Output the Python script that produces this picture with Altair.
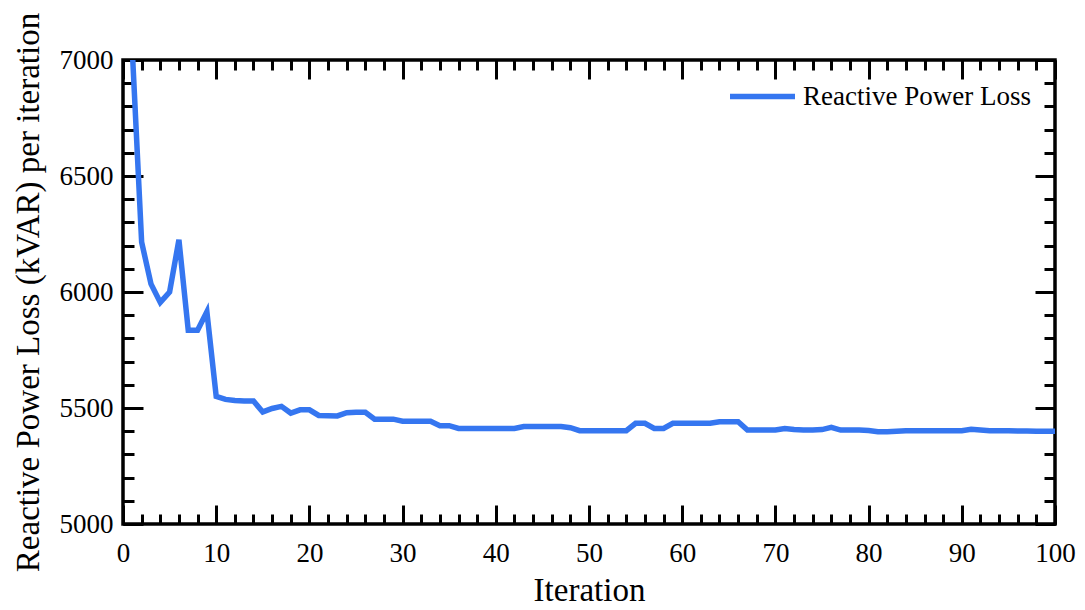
import altair as alt
import pandas as pd

iterations = list(range(1, 101))
loss = [
    7040, 6215, 6035, 5955, 6000, 6225, 5835, 5835, 5915, 5550,
    5537, 5532, 5530, 5530, 5483, 5498, 5507, 5478, 5492, 5492,
    5468, 5467, 5466, 5480, 5482, 5482, 5452, 5452, 5452, 5443,
    5443, 5443, 5443, 5424, 5424, 5412, 5412, 5412, 5412, 5412,
    5412, 5412, 5420, 5420, 5420, 5420, 5420, 5415, 5402, 5402,
    5402, 5402, 5402, 5402, 5434, 5434, 5412, 5412, 5434, 5434,
    5434, 5434, 5434, 5441, 5441, 5441, 5405, 5405, 5405, 5405,
    5412, 5407, 5405, 5405, 5407, 5417, 5405, 5405, 5405, 5403,
    5398, 5398, 5400, 5402, 5402, 5402, 5402, 5402, 5402, 5402,
    5408, 5405, 5402, 5402, 5402, 5401, 5401, 5400, 5400, 5400,
]
series_name = "Reactive Power Loss"

x_major = [0, 10, 20, 30, 40, 50, 60, 70, 80, 90, 100]
x_minor = list(range(0, 101, 2))
y_major = [5000, 5500, 6000, 6500, 7000]
y_minor = list(range(5000, 7001, 100))

W, H = 932, 464
FONT = "Liberation Serif"
BLUE = "#3576f0"

df = pd.DataFrame({"Iteration": iterations, "Loss": loss, "Series": [series_name] * len(iterations)})

xs = alt.Scale(domain=[0, 100], nice=False, zero=False)
ys = alt.Scale(domain=[5000, 7000], nice=False, zero=False)


def tick_axis(orient, offset, values, size):
    return alt.Axis(orient=orient, offset=offset, values=values, tickSize=size,
                    tickWidth=3, tickColor="black", labels=False, domain=False,
                    grid=False, title=None)


base = alt.Chart(df)

main = base.mark_line(strokeWidth=5.5, clip=True).encode(
    x=alt.X("Iteration:Q", scale=xs,
            axis=alt.Axis(orient="bottom", values=x_major, ticks=False, domain=False, grid=False,
                          title="Iteration", labelFontSize=27, titleFontSize=33,
                          labelFont=FONT, titleFont=FONT, labelColor="black", titleColor="black",
                          titleFontWeight="normal", labelPadding=16, titlePadding=8,
                          labelFlush=False, format="d")),
    y=alt.Y("Loss:Q", scale=ys,
            axis=alt.Axis(orient="left", values=y_major, ticks=False, domain=False, grid=False,
                          title="Reactive Power Loss (kVAR) per iteration",
                          labelFontSize=27, titleFontSize=33, labelFont=FONT, titleFont=FONT,
                          labelColor="black", titleColor="black", titleFontWeight="normal",
                          labelPadding=10, titlePadding=14, labelFlush=False, format="d")),
    color=alt.Color("Series:N", scale=alt.Scale(range=[BLUE]),
                    legend=alt.Legend(title=None, orient="none", legendX=604, legendY=1, padding=0,
                                      labelFont=FONT, labelFontSize=27, labelColor="black",
                                      labelLimit=500,
                                      symbolType="stroke", symbolSize=4225, symbolStrokeWidth=5.5,
                                      labelOffset=5)),
)


def ghost(xo, xoff, xv, xsz, yo, yoff, yv, ysz):
    return base.mark_line(opacity=0).encode(
        x=alt.X("Iteration:Q", scale=xs, axis=tick_axis(xo, xoff, xv, xsz)),
        y=alt.Y("Loss:Q", scale=ys, axis=tick_axis(yo, yoff, yv, ysz)),
    )


l_major_a = ghost("top", -H, x_major, 19, "right", -W, y_major, 20)
l_major_b = ghost("bottom", -H, x_major, 19, "left", -W, y_major, 20)
l_minor_a = ghost("top", -H, x_minor, 10, "right", -W, y_minor, 11)
l_minor_b = ghost("bottom", -H, x_minor, 10, "left", -W, y_minor, 11)

chart = alt.layer(main, l_major_a, l_major_b, l_minor_a, l_minor_b).resolve_axis(
    x="independent", y="independent"
).properties(
    width=W, height=H,
    autosize=alt.AutoSizeParams(type="none"),
    padding={"left": 123, "top": 60, "right": 30, "bottom": 86},
    background="white",
).configure_view(stroke="black", strokeWidth=3.5)

chart.save("out.html", embed_options={"renderer": "svg", "actions": False})
